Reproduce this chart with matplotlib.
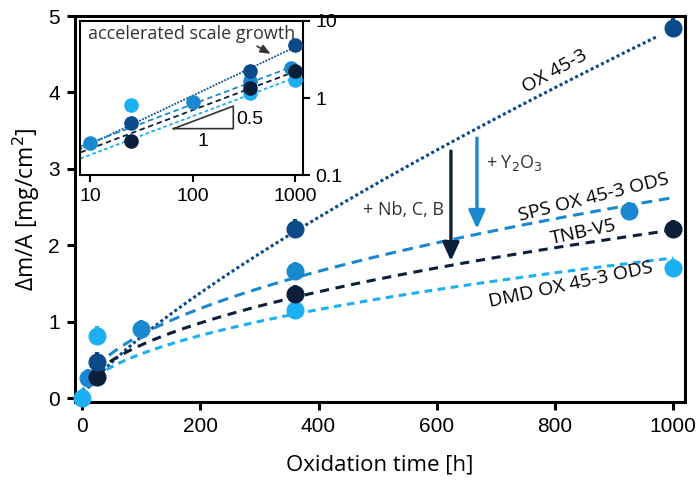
import numpy as np
import matplotlib.pyplot as plt

# colours of the four alloys
c_ox = '#0b4a8a'
c_sps = '#1a88cf'
c_tnb = '#0b1f3b'
c_dmd = '#1cb0f2'

# measured mass gain, main panel
t_ox = [25, 360, 1000]
m_ox = [0.48, 2.22, 4.85]
t_sps = [10, 100, 360, 925]
m_sps = [0.26, 0.90, 1.66, 2.45]
t_tnb = [25, 360, 1000]
m_tnb = [0.28, 1.36, 2.21]
t_dmd = [0, 25, 360, 1000]
m_dmd = [0.0, 0.82, 1.16, 1.70]

# fit parameters: m = k * t^n
fit_ox = (0.0221, 0.78)
fit_sps = (0.083, 0.5)
fit_tnb = (0.0696, 0.5)
fit_dmd = (0.058, 0.5)
fit_ox_inset = (0.059, 0.63)

plt.rcParams['font.family'] = ['Liberation Sans', 'DejaVu Sans']
label_font = ['Open Sans', 'DejaVu Sans']

fig = plt.figure(figsize=(6.99, 4.86), dpi=100)
ax = fig.add_axes([0.1073, 0.1728, 0.8727, 0.7942])

t = np.linspace(0, 1000, 400)
t_o = np.linspace(0, 975, 400)
ax.plot(t_o, fit_ox[0] * t_o ** fit_ox[1], color=c_ox, ls=(0, (1, 0.9)), lw=2.2, zorder=2)
ax.plot(t, fit_sps[0] * t ** fit_sps[1], color=c_sps, ls=(0, (3.5, 2.2)), lw=2.2, zorder=2)
ax.plot(t, fit_tnb[0] * t ** fit_tnb[1], color=c_tnb, ls=(0, (3, 2.2)), lw=2.2, zorder=2)
ax.plot(t, fit_dmd[0] * t ** fit_dmd[1], color=c_dmd, ls=(0, (2.5, 1.8)), lw=2.2, zorder=2)

for tt, mm, c in [(t_dmd, m_dmd, c_dmd), (t_sps, m_sps, c_sps),
                  (t_tnb, m_tnb, c_tnb), (t_ox, m_ox, c_ox)]:
    ax.errorbar(tt, mm, yerr=0.12, fmt='o', ms=12, color=c, ecolor=c,
                elinewidth=3, capsize=0, zorder=3, clip_on=False)

ax.set_xlim(-12, 1020)
ax.set_ylim(-0.05, 5)
ax.set_xticks([0, 200, 400, 600, 800, 1000])
ax.set_yticks([0, 1, 2, 3, 4, 5])
for s in ax.spines.values():
    s.set_linewidth(2.2)
ax.tick_params(direction='out', length=6, width=2.2, labelsize=15, pad=5)
ax.set_xlabel('Oxidation time [h]', fontsize=16, family=label_font, labelpad=13)
ax.set_ylabel('Δm/A [mg/cm$^2$]', fontsize=16.5, family=label_font, labelpad=4)

# arrows and labels
ax.annotate('', xy=(624, 1.76), xytext=(624, 3.27),
            arrowprops=dict(arrowstyle='-|>,head_length=1.1,head_width=0.5', color=c_tnb, lw=2.4))
ax.annotate('', xy=(668, 2.18), xytext=(668, 3.44),
            arrowprops=dict(arrowstyle='-|>,head_length=1.1,head_width=0.5', color=c_sps, lw=2.4))
ax.text(612, 2.46, '+ Nb, C, B', ha='right', va='center', fontsize=13, color='#333333', family=label_font)
ax.text(684, 3.08, '+ Y$_2$O$_3$', ha='left', va='center', fontsize=13, color='#333333', family=label_font)

ax.text(800, 4.28, 'OX 45-3', rotation=29, ha='center', va='center', fontsize=14, family=label_font)
ax.text(866, 2.63, 'SPS OX 45-3 ODS', rotation=14, ha='center', va='center', fontsize=14, family=label_font)
ax.text(848, 2.17, 'TNB-V5', rotation=12, ha='center', va='center', fontsize=14, family=label_font)
ax.text(826, 1.49, 'DMD OX 45-3 ODS', rotation=12, ha='center', va='center', fontsize=14, family=label_font)

# inset, log-log
ins = fig.add_axes([0.1144, 0.6399, 0.3190, 0.3169])
ti = np.logspace(np.log10(8), 3, 100)
ins.plot(ti, fit_ox_inset[0] * ti ** fit_ox_inset[1], color=c_ox, ls=(0, (1, 0.8)), lw=1.3)
ins.plot(ti, fit_sps[0] * ti ** fit_sps[1], color=c_sps, ls=(0, (3, 2)), lw=1.3)
ins.plot(ti, fit_tnb[0] * ti ** fit_tnb[1], color=c_tnb, ls=(0, (3, 2)), lw=1.3)
ins.plot(ti, fit_dmd[0] * ti ** fit_dmd[1], color=c_dmd, ls=(0, (2, 1.5)), lw=1.3)
for tt, mm, c in [(t_dmd, m_dmd, c_dmd), (t_sps, m_sps, c_sps),
                  (t_tnb, m_tnb, c_tnb), (t_ox, m_ox, c_ox)]:
    tt = np.array(tt, dtype=float)
    mm = np.array(mm)
    keep = tt > 0
    ins.plot(tt[keep], mm[keep], 'o', ms=9.5, color=c, clip_on=False, zorder=3)

ins.set_xscale('log')
ins.set_yscale('log')
ins.set_xlim(7.9, 1200)
ins.set_ylim(0.1, 10)
ins.set_xticks([10, 100, 1000])
ins.set_xticklabels(['10', '100', '1000'])
ins.set_yticks([0.1, 1, 10])
ins.set_yticklabels(['0.1', '1', '10'])
ins.minorticks_off()
ins.yaxis.tick_right()
for s in ins.spines.values():
    s.set_linewidth(1.5)
ins.tick_params(direction='out', length=5, width=1.5, labelsize=14, pad=4)

# slope triangle
tri_x = [65, 250, 250, 65]
tri_y = [0.4, 0.4 * (250 / 65) ** 0.5, 0.4, 0.4]
ins.plot(tri_x, tri_y, color='#333333', lw=1.2)
ins.text(265, 0.53, '0.5', ha='left', va='center', fontsize=14)
ins.text(127, 0.27, '1', ha='center', va='center', fontsize=14)

ins.text(0.5, 0.915, 'accelerated scale growth', transform=ins.transAxes, ha='center', va='center',
         fontsize=13, color='#333333', family=label_font)
ins.annotate('', xy=(610, 3.6), xytext=(405, 4.9),
             arrowprops=dict(arrowstyle='-|>,head_length=0.6,head_width=0.25', color='#333333', lw=1.2))

fig.savefig('out.png', dpi=100)
